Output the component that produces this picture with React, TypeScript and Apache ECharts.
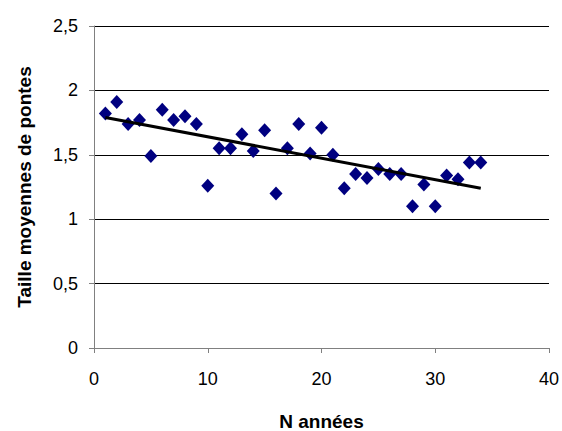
import React, { useEffect, useRef } from "react";
import * as echarts from "echarts";

const years = [1, 2, 3, 4, 5, 6, 7, 8, 9, 10, 11, 12, 13, 14, 15, 16, 17, 18, 19, 20, 21, 22, 23, 24, 25, 26, 27, 28, 29, 30, 31, 32, 33, 34];
const clutchSize = [1.82, 1.91, 1.74, 1.77, 1.49, 1.85, 1.77, 1.8, 1.74, 1.26, 1.55, 1.55, 1.66, 1.53, 1.69, 1.2, 1.55, 1.74, 1.51, 1.71, 1.5, 1.24, 1.35, 1.32, 1.39, 1.35, 1.35, 1.1, 1.27, 1.1, 1.34, 1.31, 1.44, 1.44];
const trendX = [1, 34];
const trendY = [1.79, 1.24];

export default function App() {
  const ref = useRef<HTMLDivElement>(null);
  useEffect(() => {
    if (!ref.current) return;
    const chart = echarts.init(ref.current, null, { renderer: "svg" });
    const font = "'Liberation Sans', Arial, sans-serif";
    chart.setOption({
      animation: false,
      backgroundColor: "#ffffff",
      grid: { left: 94, right: 13, top: 26, bottom: 83, containLabel: false, outerBoundsMode: "none" },
      xAxis: {
        type: "value",
        min: 0,
        max: 40,
        interval: 10,
        name: "N années",
        nameLocation: "middle",
        nameGap: 64,
        nameTextStyle: { fontFamily: font, fontSize: 19, fontWeight: "bold", color: "#000" },
        axisLine: { show: true, lineStyle: { color: "#808080", width: 1 } },
        axisTick: { show: true, inside: false, length: 5, lineStyle: { color: "#808080" } },
        axisLabel: { fontFamily: font, fontSize: 18, color: "#000", margin: 22 },
        splitLine: { show: false },
      },
      yAxis: {
        type: "value",
        min: 0,
        max: 2.5,
        interval: 0.5,
        name: "Taille moyennes de pontes",
        nameLocation: "middle",
        nameGap: 60,
        nameRotate: 90,
        nameTextStyle: { fontFamily: font, fontSize: 19, fontWeight: "bold", color: "#000" },
        axisLine: { show: true, lineStyle: { color: "#808080", width: 1 } },
        axisTick: { show: true, inside: false, length: 5, lineStyle: { color: "#808080" } },
        axisLabel: {
          fontFamily: font,
          fontSize: 18,
          color: "#000",
          margin: 16,
          formatter: (v: number) => String(v).replace(".", ","),
        },
        splitLine: { show: true, lineStyle: { color: "#000", width: 1 } },
      },
      series: [
        {
          type: "scatter",
          data: years.map((x, i) => [x, clutchSize[i]]),
          symbol: "diamond",
          symbolSize: [13, 14],
          itemStyle: { color: "#000080", opacity: 1 },
          z: 3,
        },
        {
          type: "line",
          data: trendX.map((x, i) => [x, trendY[i]]),
          symbol: "none",
          lineStyle: { color: "#000", width: 3 },
          z: 4,
        },
      ],
    });
    return () => chart.dispose();
  }, []);
  return <div ref={ref} style={{ position: "fixed", left: 0, top: 0, width: 562, height: 431 }} />;
}
